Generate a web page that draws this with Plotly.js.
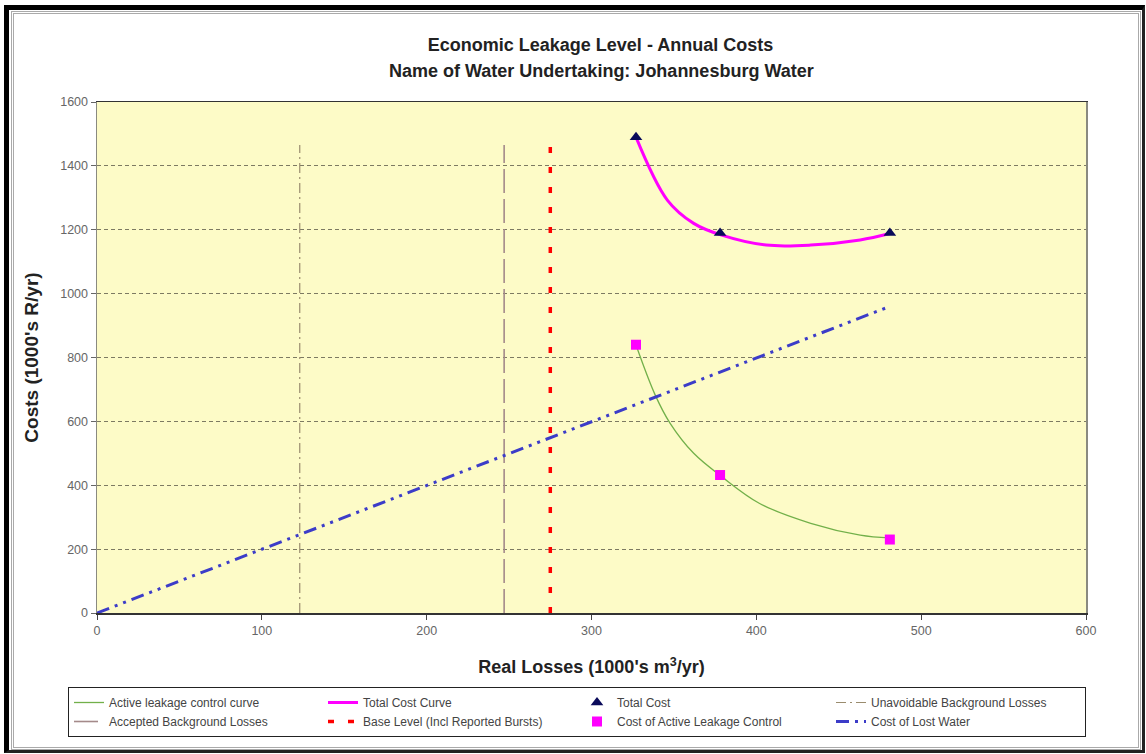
<!DOCTYPE html>
<html>
<head>
<meta charset="utf-8">
<script src="https://cdn.plot.ly/plotly-3.0.1.min.js"></script>
<style>
html,body{margin:0;padding:0;background:#fff;width:1146px;height:754px;overflow:hidden;}
#outer{position:absolute;box-sizing:border-box;left:4px;top:5px;width:1141px;height:748px;border-left:5px solid #000;border-top:5px solid #000;border-right:3px solid #222;border-bottom:3px solid #222;}
#inner{position:absolute;box-sizing:border-box;left:11px;top:11px;width:1130px;height:739px;border:3px double #aaa;}
#chart{position:absolute;left:0;top:0;width:1146px;height:754px;}
</style>
</head>
<body>
<div id="outer"></div>
<div id="inner"></div>
<div id="chart"></div>
<script>
// ---- data ----
const titleLine1 = "Economic Leakage Level - Annual Costs";
const titleLine2 = "Name of Water Undertaking: Johannesburg Water";

const xTicks = [0, 100, 200, 300, 400, 500, 600];
const yTicks = [0, 200, 400, 600, 800, 1000, 1200, 1400, 1600];

// Active leakage control curve
const alcCurveX = [327, 338.6, 347.7, 362, 379, 402, 433, 463, 481];
const alcCurveY = [839, 683, 594, 500, 427, 343, 281, 244, 235];

// Total cost curve
const totalCurveX = [327, 346, 362, 379, 406, 433, 463, 481];
const totalCurveY = [1490, 1293, 1220, 1183, 1152, 1152, 1168, 1188];

// Total cost points (triangles)
const totalCostX = [327, 378, 481];
const totalCostY = [1490, 1190, 1190];

// Cost of active leakage control points (squares)
const alcCostX = [327, 378, 481];
const alcCostY = [840, 432, 230];

// Cost of lost water line
const lostWaterX = [0, 481];
const lostWaterY = [0, 960];

// Vertical reference levels
const unavoidableX = [123, 123];
const acceptedX = [247, 247];
const baseLevelX = [275, 275];
const levelY = [0, 1465];

// ---- traces ----
const traces = [
  {name: "Active leakage control curve", x: alcCurveX, y: alcCurveY, mode: "lines",
   line: {color: "#72b04a", width: 1.3, shape: "spline", smoothing: 1}},
  {name: "Total Cost Curve", x: totalCurveX, y: totalCurveY, mode: "lines",
   line: {color: "#ff00ff", width: 3, shape: "spline", smoothing: 1}},
  {name: "Total Cost", x: totalCostX, y: totalCostY, mode: "markers",
   marker: {symbol: "triangle-up", color: "#0a0a5a", size: 11}},
  {name: "Unavoidable Background Losses", x: unavoidableX, y: levelY, mode: "lines",
   line: {color: "#9a8c6e", width: 1.2, dash: "10px,4px,2px,4px"}},
  {name: "Accepted Background Losses", x: acceptedX, y: levelY, mode: "lines",
   line: {color: "#a48a8a", width: 1.6, dash: "24px,6px"}},
  {name: "Base Level (Incl Reported Bursts)", x: baseLevelX, y: levelY, mode: "lines",
   line: {color: "#ff0000", width: 3.5, dash: "6px,14px"}},
  {name: "Cost of Active Leakage Control", x: alcCostX, y: alcCostY, mode: "markers",
   marker: {symbol: "square", color: "#ff00ff", size: 10}},
  {name: "Cost of Lost Water", x: lostWaterX, y: lostWaterY, mode: "lines",
   line: {color: "#3c3cc8", width: 3, dash: "13px,6px,3px,6px,3px,6px"}}
];

const fam = "Liberation Sans, Arial, sans-serif";

const layout = {
  width: 1146, height: 754,
  paper_bgcolor: "rgba(0,0,0,0)",
  plot_bgcolor: "#fdfbc7",
  margin: {l: 97, r: 60, t: 102, b: 141, pad: 0},
  font: {family: fam, color: "#222"},
  showlegend: true,
  title: {text: "<b>" + titleLine1 + "</b>", x: 0.524, xanchor: "center",
          xref: "container", yref: "container", y: 1 - 45/754, yanchor: "middle",
          font: {size: 18, family: fam, color: "#222"}},
  annotations: [
    {text: "<b>" + titleLine2 + "</b>", xref: "paper", yref: "paper",
     x: (601 - 97) / 989, y: (613 - 71) / 511, xanchor: "center", yanchor: "middle",
     showarrow: false, font: {size: 18, family: fam, color: "#222"}}
  ],
  xaxis: {
    range: [0, 600], tickvals: xTicks, ticktext: xTicks.map(String),
    showgrid: false, zeroline: false,
    showline: true, linecolor: "#333", linewidth: 1.5, mirror: true,
    ticks: "outside", ticklen: 5, tickcolor: "#444",
    tickfont: {size: 12.5, color: "#666", family: fam},
    title: {text: "<b>Real Losses (1000's m<sup>3</sup>/yr)</b>", standoff: 24,
            font: {size: 18, color: "#222", family: fam}}
  },
  yaxis: {
    range: [0, 1600], tickvals: yTicks, ticktext: yTicks.map(String),
    showgrid: true, gridcolor: "#7d7a62", gridwidth: 1, griddash: "4px,3px",
    zeroline: false,
    showline: true, linecolor: "#8a8a80", linewidth: 1.5, mirror: true,
    ticks: "outside", ticklen: 5, tickcolor: "#666",
    tickfont: {size: 12.5, color: "#666", family: fam},
    title: {text: "<b>Costs (1000's R/yr)</b>", standoff: 16,
            font: {size: 19, color: "#222", family: fam}}
  },
  legend: {
    orientation: "h", xref: "paper", yref: "paper",
    x: (68 - 97) / 989, y: (613 - 687) / 511, xanchor: "left", yanchor: "top",
    bgcolor: "#ffffff", bordercolor: "#222", borderwidth: 1,
    font: {size: 12, color: "#444", family: fam},
    entrywidth: 209, entrywidthmode: "pixels", traceorder: "normal"
  }
};

Plotly.newPlot("chart", traces, layout, {displayModeBar: false, staticPlot: true});
</script>
</body>
</html>
